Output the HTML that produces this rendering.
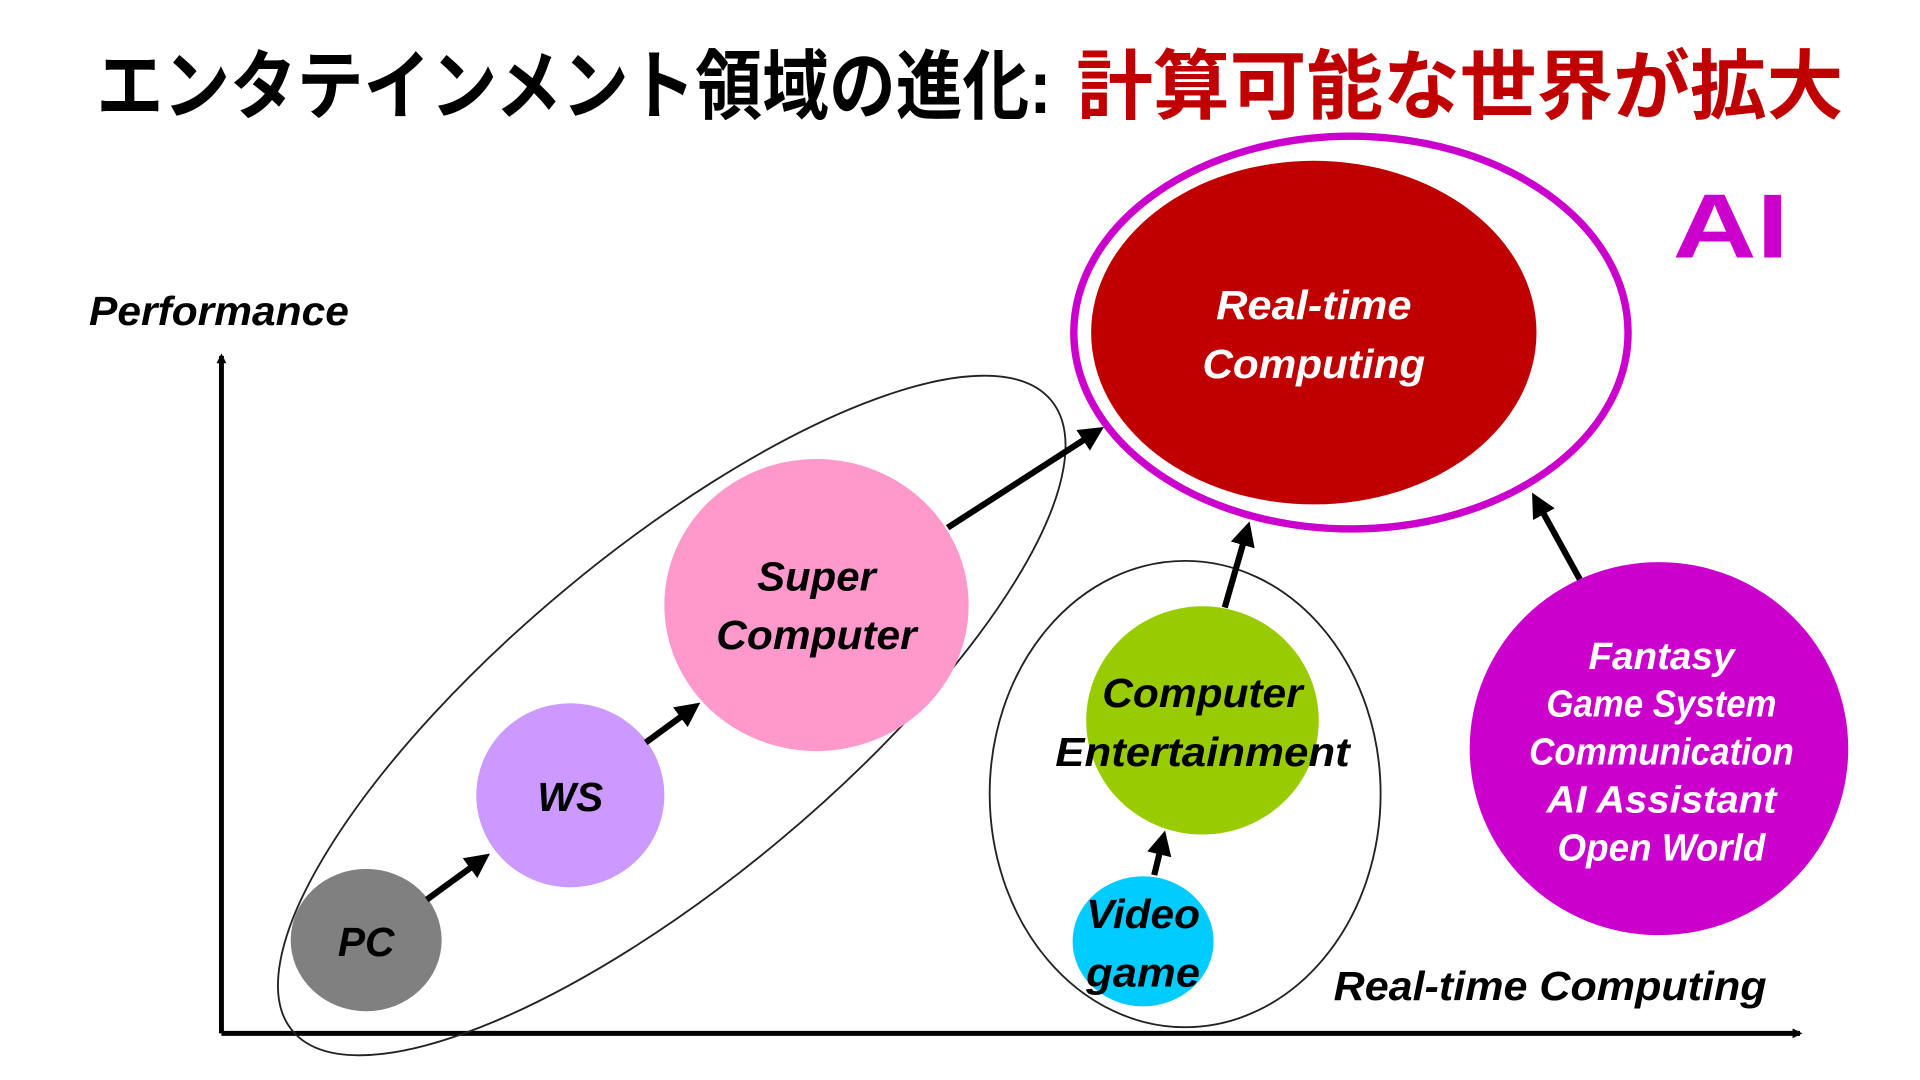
<!DOCTYPE html>
<html><head><meta charset="utf-8"><style>html,body{margin:0;padding:0;background:#fff;overflow:hidden;width:1920px;height:1080px}svg{display:block}</style></head>
<body>
<svg width="1920" height="1080" viewBox="0 0 1552 880" preserveAspectRatio="none" xmlns="http://www.w3.org/2000/svg" font-family="'Liberation Sans','Noto Sans CJK JP',sans-serif">
<defs><marker id="ah" markerWidth="4" markerHeight="4" refX="2.5" refY="2" orient="auto" markerUnits="strokeWidth"><path d="M0,0 L4,2 L0,4 z" fill="#000"/></marker>
<marker id="ah2" markerWidth="8" markerHeight="8" refX="6" refY="4" orient="auto" markerUnits="userSpaceOnUse"><path d="M0,0 L8,4 L0,8 z" fill="#000"/></marker></defs>
<text x="78" y="92" font-size="62" font-weight="bold" fill="#000" textLength="772" lengthAdjust="spacingAndGlyphs">エンタテインメント領域の進化:</text>
<text x="870" y="92" font-size="62" font-weight="bold" fill="#c00000" textLength="620" lengthAdjust="spacingAndGlyphs">計算可能な世界が拡大</text>
<line x1="179" y1="842" x2="179" y2="290" stroke="#000" stroke-width="4" marker-end="url(#ah2)"/>
<line x1="179" y1="842" x2="1455" y2="842" stroke="#000" stroke-width="4" marker-end="url(#ah2)"/>
<g font-style="italic" font-weight="bold" font-size="33">
<text x="72" y="265" textLength="210" lengthAdjust="spacingAndGlyphs">Performance</text>
<text x="1078" y="815" textLength="350" lengthAdjust="spacingAndGlyphs">Real-time Computing</text>
</g>
<ellipse cx="543" cy="583" rx="400" ry="134" transform="rotate(-40 543 583)" fill="none" stroke="#222" stroke-width="1.5"/>
<ellipse cx="958" cy="647" rx="158" ry="190" fill="none" stroke="#222" stroke-width="1.5"/>
<ellipse cx="296" cy="766" rx="61" ry="58" fill="#808080"/>
<ellipse cx="461" cy="648" rx="76" ry="75" fill="#cc99ff"/>
<ellipse cx="660" cy="493" rx="123" ry="119" fill="#ff99cc"/>
<ellipse cx="1092" cy="271" rx="224" ry="160" fill="none" stroke="#cc00cc" stroke-width="6"/>
<ellipse cx="1062" cy="271" rx="180" ry="140" fill="#c00000"/>
<ellipse cx="972" cy="587" rx="94" ry="93" fill="#99cc00"/>
<ellipse cx="924" cy="767" rx="57" ry="53" fill="#00ccff"/>
<ellipse cx="1341" cy="610" rx="153" ry="152" fill="#cc00cc"/>
<g stroke="#000" stroke-width="5" marker-end="url(#ah)">
<line x1="345" y1="733" x2="390" y2="700"/>
<line x1="522" y1="605" x2="560" y2="577"/>
<line x1="766" y1="430" x2="886" y2="352"/>
<line x1="990" y1="495" x2="1008" y2="432"/>
<line x1="933" y1="713" x2="940" y2="684"/>
<line x1="1277" y1="472" x2="1242" y2="408"/>
</g>
<text x="1352" y="210" font-size="74" font-weight="bold" fill="#cc00cc" textLength="94" lengthAdjust="spacingAndGlyphs">AI</text>
<g font-style="italic" font-weight="bold" font-size="33" text-anchor="middle">
<text x="296" y="779">PC</text>
<text x="461" y="661">WS</text>
<text x="660" y="481" textLength="96" lengthAdjust="spacingAndGlyphs">Super</text>
<text x="660" y="529" textLength="162" lengthAdjust="spacingAndGlyphs">Computer</text>
<text x="1062" y="260" fill="#fff" textLength="158" lengthAdjust="spacingAndGlyphs">Real-time</text>
<text x="1062" y="308" fill="#fff" textLength="180" lengthAdjust="spacingAndGlyphs">Computing</text>
<text x="972" y="576" textLength="162" lengthAdjust="spacingAndGlyphs">Computer</text>
<text x="972" y="624" textLength="238" lengthAdjust="spacingAndGlyphs">Entertainment</text>
<text x="924" y="756" textLength="92" lengthAdjust="spacingAndGlyphs">Video</text>
<text x="924" y="804" textLength="92" lengthAdjust="spacingAndGlyphs">game</text>
</g>
<g font-style="italic" font-weight="bold" font-size="31" fill="#fff" text-anchor="middle">
<text x="1343" y="545" textLength="118" lengthAdjust="spacingAndGlyphs">Fantasy</text>
<text x="1343" y="584" textLength="186" lengthAdjust="spacingAndGlyphs">Game System</text>
<text x="1343" y="623" textLength="214" lengthAdjust="spacingAndGlyphs">Communication</text>
<text x="1343" y="662" textLength="186" lengthAdjust="spacingAndGlyphs">AI Assistant</text>
<text x="1343" y="701" textLength="168" lengthAdjust="spacingAndGlyphs">Open World</text>
</g>
</svg>
</body></html>
